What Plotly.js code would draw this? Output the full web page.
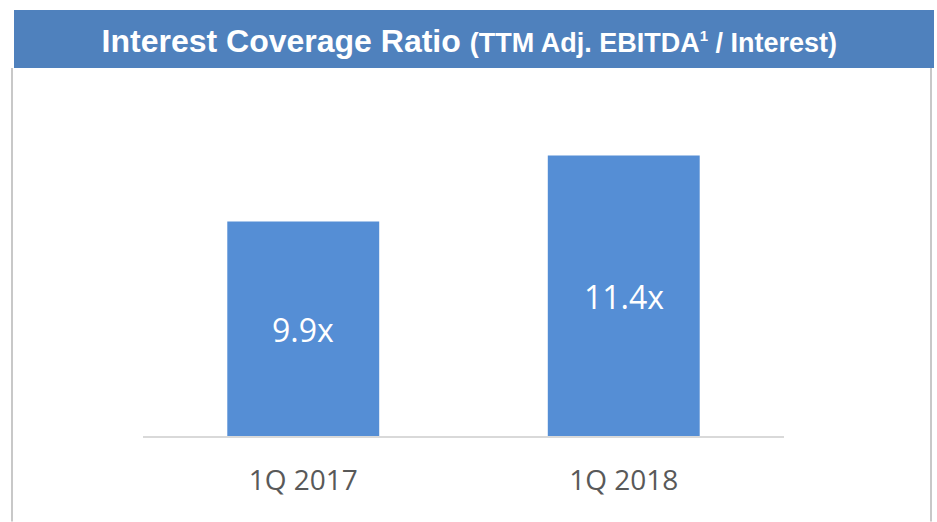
<!DOCTYPE html>
<html>
<head>
<meta charset="utf-8">
<script src="https://cdn.plot.ly/plotly-3.0.1.min.js"></script>
<style>html,body{margin:0;padding:0;background:#fff;}#chart{width:937px;height:522px;}</style>
</head>
<body>
<div id="chart"></div>
<script>
// Data
var categories = ['1Q 2017', '1Q 2018'];
var ratioValues = [9.9, 11.4];
var valueLabels = ['9.9x', '11.4x'];
var axisMin = 5;
var axisMax = 13;

var W = 937, H = 522;
var plotL = 143, plotR = 784, plotT = 85, plotB = 437.5;
function px2x(px) { return (px - plotL) / (plotR - plotL); }
function py2y(py) { return (plotB - py) / (plotB - plotT); }

var trace = {
  type: 'bar',
  x: categories,
  y: ratioValues,
  marker: { color: '#558ED5', line: { width: 0 } },
  hoverinfo: 'none'
};

var annotations = categories.map(function (c, i) {
  return {
    x: c, y: (axisMin + ratioValues[i]) / 2,
    xref: 'x', yref: 'y',
    text: valueLabels[i],
    showarrow: false,
    font: { family: 'Open Sans, sans-serif', size: 32, color: '#ffffff' },
    xanchor: 'center', yanchor: 'middle'
  };
});

var shapes = [
  // title bar
  { type: 'rect', xref: 'paper', yref: 'paper', x0: px2x(14), x1: px2x(934), y0: py2y(68), y1: py2y(10),
    fillcolor: '#4F81BD', line: { width: 0 }, layer: 'below' },
  // side borders
  { type: 'line', xref: 'paper', yref: 'paper', x0: px2x(12), x1: px2x(12), y0: py2y(68), y1: py2y(522),
    line: { color: '#C8C8C8', width: 2 } },
  { type: 'line', xref: 'paper', yref: 'paper', x0: px2x(931), x1: px2x(931), y0: py2y(68), y1: py2y(522),
    line: { color: '#C8C8C8', width: 2 } },
  // baseline
  { type: 'line', xref: 'paper', yref: 'paper', x0: 0, x1: 1, y0: 0, y1: 0,
    line: { color: '#D9D9D9', width: 2 } }
];

var layout = {
  width: W, height: H,
  paper_bgcolor: '#ffffff', plot_bgcolor: '#ffffff',
  margin: { l: plotL, r: W - plotR, t: plotT, b: H - plotB, pad: 0 },
  title: {
    text: 'Interest Coverage Ratio <span style="font-size:27px">(TTM Adj. EBITDA<sup><span style="font-size:15px">1</span></sup> / Interest)</span>',
    font: { family: 'Arial, Liberation Sans, sans-serif', size: 32, color: '#ffffff', weight: 'bold' },
    x: 477 / W, xanchor: 'center', xref: 'paper',
    y: 1 - 41 / H, yanchor: 'middle', yref: 'container'
  },
  bargap: 0.526,
  showlegend: false,
  xaxis: {
    type: 'category',
    showgrid: false, zeroline: false, showline: false, ticks: '',
    tickfont: { family: 'Open Sans, sans-serif', size: 28, color: '#595959' },
    ticklabelstandoff: 24
  },
  yaxis: {
    range: [axisMin, axisMax],
    visible: false, showgrid: false, zeroline: false
  },
  shapes: shapes,
  annotations: annotations
};

Plotly.newPlot('chart', [trace], layout, { displayModeBar: false, staticPlot: true });
</script>
</body>
</html>
